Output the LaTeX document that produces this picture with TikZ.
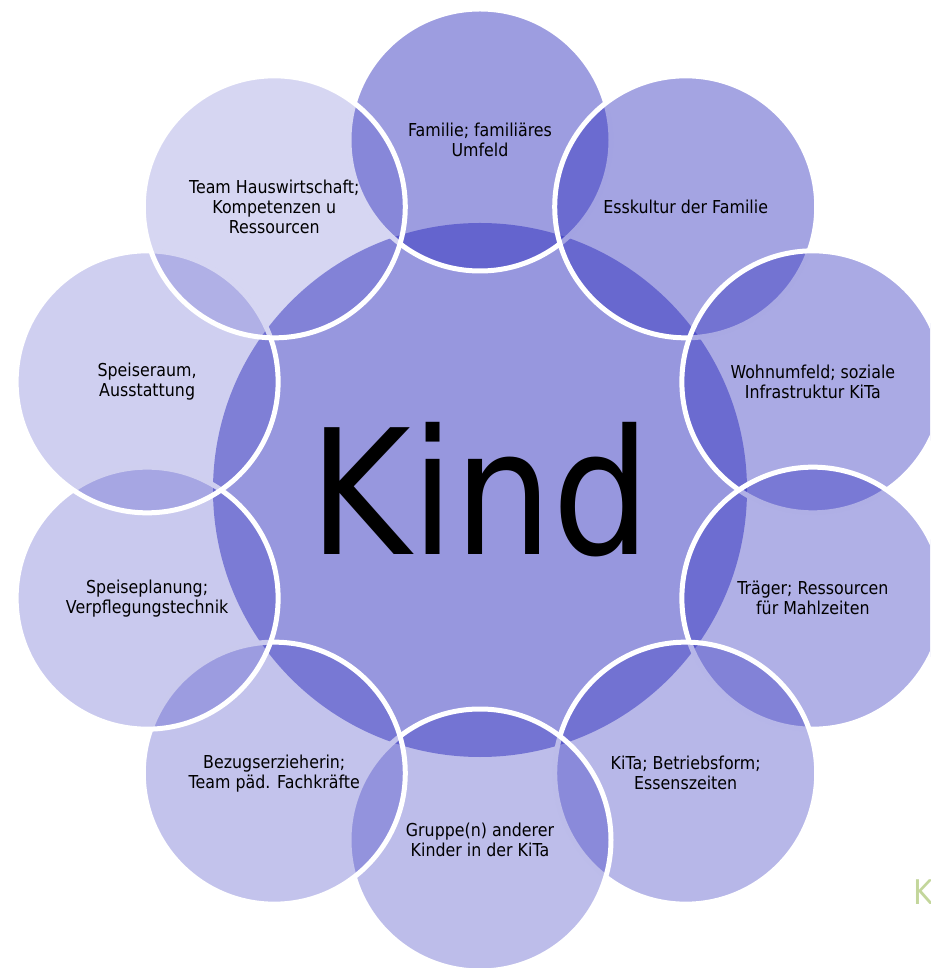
\documentclass[tikz,border=0pt]{standalone}
\usepackage{fontspec}
\setmainfont{DejaVu Sans}[FakeStretch=0.89]
\usepackage{xcolor}
\usetikzlibrary{positioning}

\definecolor{ringblue}{RGB}{38,38,186}
\definecolor{cornergreen}{RGB}{195,214,155}

\begin{document}
\begin{tikzpicture}[
    x=1pt, y=1pt,
    core/.style={circle, fill=ringblue, fill opacity=0.48, text opacity=1, inner sep=0pt, minimum size=534pt, font=\fontsize{174}{174}\selectfont},
    petal/.style={circle, fill=ringblue, draw=white, line width=5pt, text opacity=1, inner sep=0pt, minimum size=262pt, align=center, font=\fontsize{17.8}{20}\selectfont}
]
    \clip (-480,-478) rectangle (450,490);

    \node [core] (kind) at (0,0) {Kind};

    % ring of ten circles, clockwise from the top, each a bit lighter
    \foreach \lbl [count=\i from 0] in {
        {Familie; familiäres\\Umfeld},
        {Esskultur der Familie},
        {Wohnumfeld; soziale\\Infrastruktur KiTa},
        {Träger; Ressourcen\\für Mahlzeiten},
        {KiTa; Betriebsform;\\Essenszeiten},
        {Gruppe(n) anderer\\Kinder in der KiTa},
        {Bezugserzieherin;\\Team päd. Fachkräfte},
        {Speiseplanung;\\Verpflegungstechnik},
        {Speiseraum,\\Ausstattung},
        {Team Hauswirtschaft;\\Kompetenzen u\\Ressourcen}} {
        \pgfmathsetmacro\ang{90-36*\i}
        \pgfmathsetmacro\op{0.45-0.029*\i}
        \node [petal, fill opacity=\op] (petal\i) at (\ang:350) {\lbl};
    }

    \node [anchor=west, inner sep=0pt, text=cornergreen, font=\fontsize{34}{34}\selectfont] (cornerk) at (433,-402) {K};
\end{tikzpicture}
\end{document}
